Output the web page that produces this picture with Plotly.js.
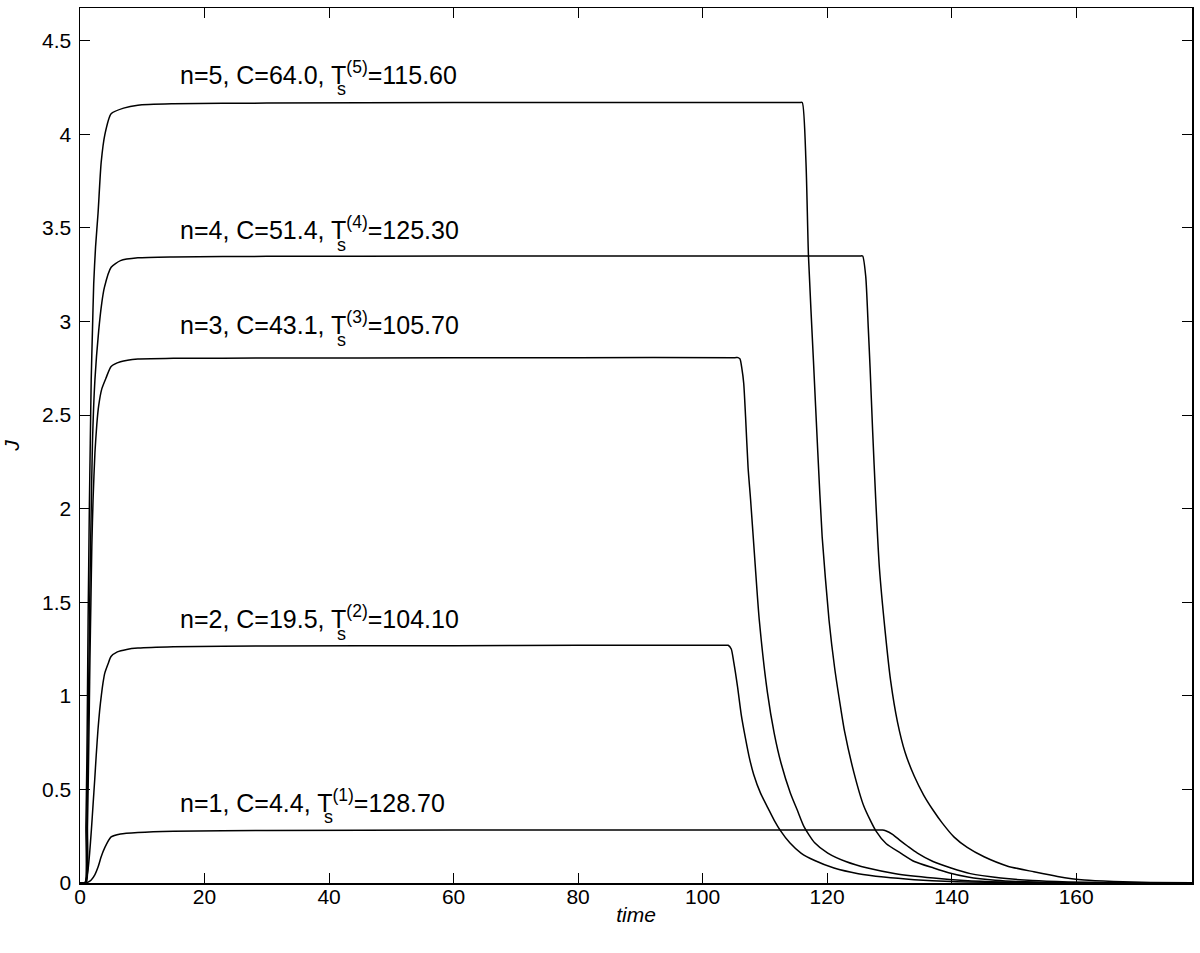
<!DOCTYPE html>
<html>
<head>
<meta charset="utf-8">
<script src="https://cdn.plot.ly/plotly-3.0.1.min.js"></script>
<style>
  body { margin: 0; background: #fff; }
  #chart { width: 1200px; height: 953px; }
</style>
</head>
<body>
<div id="chart"></div>
<script>
// values
var t1 = [0, 0.8, 1.3, 1.8, 2.4, 2.9, 3.4, 4.0, 5.0, 6.5, 9.3, 15, 30, 60, 100, 128.4, 128.9, 129.4, 130.5, 131.8, 133, 134.5, 137, 139.9, 143, 147.9, 153, 158.7, 165, 178.6];
var j1 = [0, 0, 0.005, 0.016, 0.045, 0.085, 0.14, 0.19, 0.246, 0.262, 0.27, 0.277, 0.281, 0.283, 0.283, 0.283, 0.283, 0.279, 0.26, 0.225, 0.195, 0.16, 0.115, 0.08, 0.05, 0.027, 0.013, 0.006, 0.002, 0];

var t2 = [0, 0.76, 1.0, 1.29, 1.55, 1.82, 2.1, 2.36, 2.6, 2.89, 3.15, 3.42, 3.7, 3.97, 4.5, 4.98, 6.0, 7.5, 9.3, 15, 30, 60, 80, 103.6, 104.1, 104.6, 105.0, 105.6, 106.2, 106.9, 107.5, 108.2, 109.3, 110.5, 111.5, 112.5, 114, 115.8, 118, 121.1, 125, 129.1, 134, 139.9, 146, 153.2, 165, 178.6];
var j2 = [0, 0, 0.02, 0.07, 0.16, 0.28, 0.42, 0.55, 0.68, 0.82, 0.92, 1.0, 1.07, 1.12, 1.17, 1.21, 1.235, 1.248, 1.255, 1.262, 1.266, 1.268, 1.27, 1.27, 1.27, 1.25, 1.18, 1.05, 0.9, 0.77, 0.67, 0.58, 0.48, 0.40, 0.335, 0.28, 0.215, 0.16, 0.12, 0.08, 0.05, 0.032, 0.018, 0.008, 0.004, 0.001, 0, 0];

var t3 = [0, 1.0, 1.2, 1.35, 1.5, 1.6, 1.75, 1.9, 2.1, 2.4, 2.7, 3.0, 3.5, 4.2, 5.0, 6.5, 9.3, 15, 30, 60, 80, 105.2, 105.7, 106.0, 106.3, 106.6, 106.9, 107.3, 107.7, 108.4, 109.1, 110.4, 111.5, 112.6, 114.1, 115.2, 116.3, 118, 120.1, 123, 126.5, 131, 137.1, 142, 147.9, 155, 165, 178.6];
var j3 = [0, 0, 0.3, 0.6, 0.95, 1.2, 1.5, 1.8, 2.05, 2.3, 2.45, 2.55, 2.64, 2.70, 2.76, 2.785, 2.80, 2.803, 2.805, 2.806, 2.807, 2.807, 2.807, 2.80, 2.75, 2.67, 2.49, 2.22, 2.05, 1.72, 1.405, 1.02, 0.80, 0.64, 0.48, 0.39, 0.30, 0.215, 0.16, 0.115, 0.08, 0.05, 0.027, 0.014, 0.006, 0.002, 0, 0];

var t4 = [0, 0.9, 1.1, 1.25, 1.45, 1.6, 1.75, 2.0, 2.4, 3.0, 3.5, 3.9, 5.0, 6.5, 9.3, 15, 30, 60, 100, 124.8, 125.3, 125.7, 126.2, 126.6, 126.9, 127.3, 127.8, 128.4, 129.3, 130.2, 131.3, 132.5, 134, 135.5, 137, 138.5, 140.4, 142.5, 145.2, 149, 153.2, 157, 161.3, 166, 172, 178.6];
var j4 = [0, 0, 0.3, 0.7, 1.2, 1.6, 1.9, 2.35, 2.69, 2.95, 3.1, 3.18, 3.29, 3.325, 3.34, 3.345, 3.348, 3.35, 3.35, 3.35, 3.35, 3.35, 3.24, 2.97, 2.75, 2.42, 2.05, 1.68, 1.35, 1.08, 0.86, 0.70, 0.57, 0.47, 0.39, 0.32, 0.245, 0.19, 0.14, 0.09, 0.06, 0.035, 0.016, 0.008, 0.003, 0.001];

var t5 = [0, 0.8, 0.95, 1.1, 1.2, 1.3, 1.4, 1.5, 1.65, 1.8, 2.0, 2.2, 2.5, 2.9, 3.4, 4.0, 5.0, 7.0, 9.3, 15, 30, 60, 90, 115.1, 115.6, 116.0, 116.6, 117.0, 117.8, 118.5, 119.2, 120.3, 121.2, 122.2, 122.8, 124.3, 125.9, 127.8, 129.5, 131.8, 134, 137.1, 139.5, 142.6, 147, 153.2, 160, 170, 178.6];
var j5 = [0, 0, 0.3, 0.65, 1.0, 1.4, 1.7, 2.0, 2.35, 2.69, 2.95, 3.2, 3.4, 3.58, 3.85, 4.0, 4.11, 4.14, 4.156, 4.163, 4.167, 4.17, 4.17, 4.17, 4.17, 4.17, 3.85, 3.35, 2.79, 2.3, 1.85, 1.405, 1.15, 0.93, 0.81, 0.59, 0.41, 0.28, 0.21, 0.16, 0.115, 0.08, 0.055, 0.032, 0.015, 0.005, 0.002, 0.0005, 0];

var labels = ['n=1, C=4.4, T<sup>(1)</sup>=128.70',
              'n=2, C=19.5, T<sup>(2)</sup>=104.10',
              'n=3, C=43.1, T<sup>(3)</sup>=105.70',
              'n=4, C=51.4, T<sup>(4)</sup>=125.30',
              'n=5, C=64.0, T<sup>(5)</sup>=115.60'];
var label_y = [0.44, 1.42, 2.99, 3.50, 4.33];
var sub_x = [38.8, 41.0, 41.0, 41.0, 41.0];

var ts = [t1, t2, t3, t4, t5];
var js = [j1, j2, j3, j4, j5];

var traces = [];
for (var i = 0; i < ts.length; i++) {
    traces.push({
        x: ts[i],
        y: js[i],
        type: 'scatter',
        mode: 'lines',
        line: {color: '#000', width: 1.5, shape: 'spline', smoothing: 0.6},
        hoverinfo: 'skip'
    });
}

var fnt = {family: 'Liberation Sans, Arial, sans-serif', size: 21, color: '#000'};
var lblfnt = {family: 'Liberation Sans, Arial, sans-serif', size: 25, color: '#000'};

var annotations = [];
for (var k = 0; k < labels.length; k++) {
    annotations.push({
        x: 15.8, y: label_y[k], xref: 'x', yref: 'y',
        text: labels[k], showarrow: false,
        xanchor: 'left', yanchor: 'middle', font: lblfnt
    });
    // stacked subscript "s" under the superscript
    annotations.push({
        x: sub_x[k], y: label_y[k] - 0.09, xref: 'x', yref: 'y',
        text: 's', showarrow: false,
        xanchor: 'left', yanchor: 'middle',
        font: {family: lblfnt.family, size: 18, color: '#000'}
    });
}

var layout = {
    width: 1200,
    height: 953,
    margin: {l: 80, r: 8, t: 8, b: 70},
    paper_bgcolor: '#fff',
    plot_bgcolor: '#fff',
    showlegend: false,
    font: fnt,
    xaxis: {
        range: [0, 178.6],
        tickvals: [0, 20, 40, 60, 80, 100, 120, 140, 160],
        ticks: 'inside', ticklen: 10, tickcolor: '#000', tickwidth: 1,
        showline: true, linecolor: '#000', linewidth: 1.5, mirror: 'ticks',
        showgrid: false, zeroline: false,
        tickfont: fnt, ticklabelstandoff: -6,
        title: {text: '<i>time</i>', font: fnt, standoff: 0}
    },
    yaxis: {
        range: [0, 4.675],
        tickvals: [0, 0.5, 1, 1.5, 2, 2.5, 3, 3.5, 4, 4.5],
        ticks: 'inside', ticklen: 10, tickcolor: '#000', tickwidth: 1,
        showline: true, linecolor: '#000', linewidth: 1.5, mirror: 'ticks',
        showgrid: false, zeroline: false,
        tickfont: fnt, ticklabelstandoff: 3,
        title: {text: '<i>J</i>', font: fnt, standoff: 18}
    },
    annotations: annotations
};

Plotly.newPlot('chart', traces, layout, {displayModeBar: false, staticPlot: true});
</script>
</body>
</html>
